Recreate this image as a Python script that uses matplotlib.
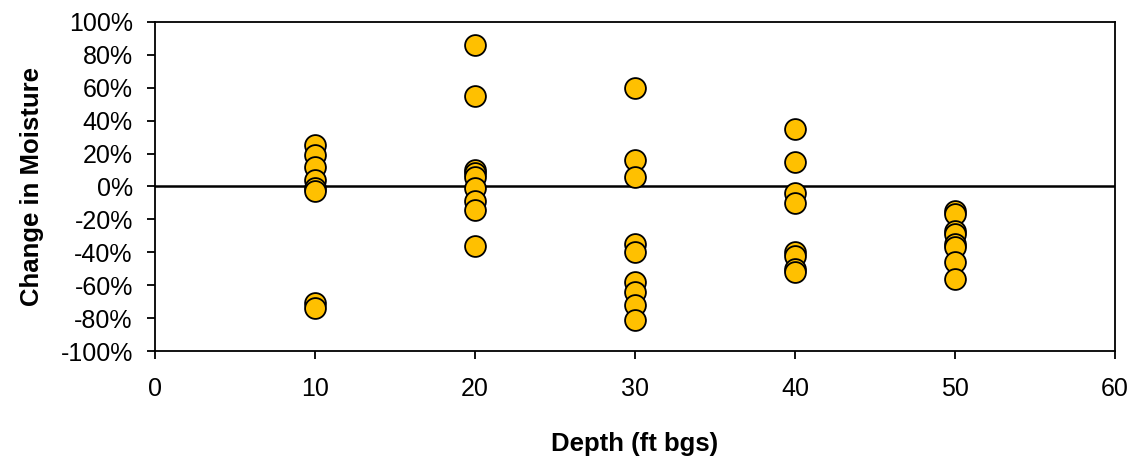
import numpy as np
import matplotlib.pyplot as plt
from matplotlib.ticker import FuncFormatter

plt.rcParams['font.family'] = ['Liberation Sans', 'DejaVu Sans']

# Change in moisture (%) by depth (ft bgs)
depth_10 = [25, 19, 12, 4, -1, -3, -71, -74]
depth_20 = [86, 55, 10, 8, 6, -1, -9, -14, -36]
depth_30 = [60, 16, 6, -35, -40, -58, -64, -72, -81]
depth_40 = [35, 15, -4, -10, -40, -42, -50, -52]
depth_50 = [-15, -17, -27, -29, -35, -37, -46, -56]

groups = {10: depth_10, 20: depth_20, 30: depth_30, 40: depth_40, 50: depth_50}

x_vals = []
y_vals = []
for d, vals in groups.items():
    x_vals += [d] * len(vals)
    y_vals += vals

fig = plt.figure(figsize=(11.37, 4.58), dpi=100)
ax = fig.add_axes([0.1363, 0.2336, 0.8444, 0.7184])

ax.axhline(0, color='black', linewidth=1.8, zorder=1)
ax.scatter(x_vals, y_vals, s=225, c='#FFC000', edgecolors='black',
           linewidths=1.3, zorder=3, clip_on=False)

ax.set_xlim(0, 60)
ax.set_ylim(-100, 100)
ax.set_xticks(np.arange(0, 61, 10))
ax.set_yticks(np.arange(-100, 101, 20))
ax.yaxis.set_major_formatter(FuncFormatter(lambda v, p: f"{v:.0f}%"))
ax.tick_params(axis='both', direction='out', length=6, width=1.3,
               labelsize=18, colors='black')
ax.tick_params(axis='y', pad=10)
ax.tick_params(axis='x', pad=13)
for sp in ax.spines.values():
    sp.set_linewidth(1.3)

ax.set_xlabel("Depth (ft bgs)", fontsize=18.5, fontweight='bold', labelpad=22)
ax.set_ylabel("Change in Moisture", fontsize=18.5, fontweight='bold', labelpad=12)

fig.savefig("out.png", dpi=100)
